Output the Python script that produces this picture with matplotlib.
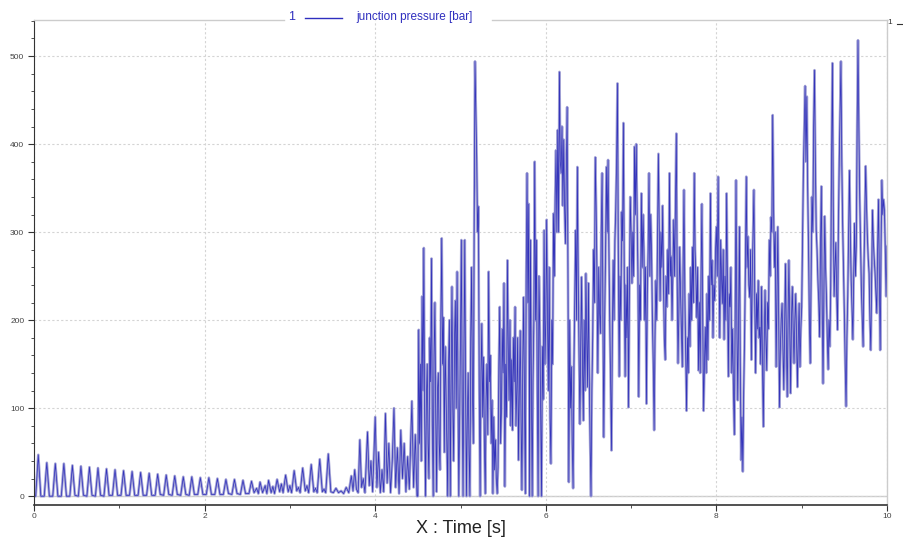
import matplotlib
matplotlib.use("Agg")
import matplotlib.pyplot as plt
import numpy as np
from matplotlib.ticker import MultipleLocator
from matplotlib.lines import Line2D

plt.rcParams['font.family'] = ['Liberation Sans', 'DejaVu Sans']

# regular start-up pulses (0 - 2.5 s)
t_pulse = [0.00,
           0.02, 0.05, 0.08, 0.12, 0.15, 0.18, 0.22, 0.25, 0.28, 0.32, 0.35, 0.38,
           0.42, 0.45, 0.48, 0.52, 0.55, 0.58, 0.62, 0.65, 0.68, 0.72, 0.75, 0.78,
           0.82, 0.85, 0.88, 0.92, 0.95, 0.98, 1.02, 1.05, 1.08, 1.12, 1.15, 1.18,
           1.22, 1.25, 1.28, 1.32, 1.35, 1.38, 1.42, 1.45, 1.48, 1.52, 1.55, 1.58,
           1.62, 1.65, 1.68, 1.72, 1.75, 1.78, 1.82, 1.85, 1.88, 1.92, 1.95, 1.98,
           2.02, 2.05, 2.08, 2.12, 2.15, 2.18, 2.22, 2.25, 2.28, 2.32, 2.35, 2.38,
           2.42, 2.45, 2.48]
p_pulse = [0,
           0, 47, 0, 0, 38, 0, 0, 37, 0, 0, 37, 0,
           0, 35, 1, 0, 34, 1, 0, 33, 1, 0, 32, 1,
           0, 31, 1, 1, 30, 1, 1, 29, 1, 1, 28, 1,
           1, 27, 1, 1, 26, 1, 1, 25, 2, 1, 24, 2,
           1, 23, 2, 1, 22, 2, 1, 22, 2, 2, 21, 2,
           2, 21, 2, 2, 20, 2, 2, 19, 3, 2, 19, 3,
           2, 18, 3]

# pulses getting irregular and growing (2.5 - 4.5 s)
t_rise = [2.52, 2.55, 2.58, 2.61, 2.63, 2.65, 2.68, 2.71, 2.73,
          2.75, 2.78, 2.80, 2.82, 2.85, 2.88, 2.90, 2.92,
          2.95, 2.98, 3.00, 3.02, 3.05, 3.08, 3.10, 3.12,
          3.15, 3.18, 3.20, 3.22, 3.25, 3.28, 3.30, 3.32,
          3.35, 3.38, 3.40, 3.42, 3.45, 3.48, 3.51, 3.54, 3.57, 3.60, 3.63, 3.66, 3.69,
          3.72, 3.74, 3.76, 3.78, 3.80, 3.82, 3.84, 3.86, 3.88,
          3.91, 3.93, 3.95, 3.97, 4.00, 4.02, 4.04, 4.06, 4.08, 4.10,
          4.12, 4.14, 4.16, 4.18, 4.20, 4.22, 4.24, 4.26, 4.28,
          4.30, 4.32, 4.34, 4.36, 4.38, 4.40, 4.43, 4.45, 4.47, 4.49]
p_rise = [3, 17, 4, 9, 3, 16, 4, 12, 3,
          18, 4, 11, 3, 19, 5, 14, 4,
          24, 5, 12, 4, 29, 6, 10, 4,
          32, 6, 12, 4, 36, 5, 9, 4,
          42, 5, 8, 4, 48, 5, 4, 9, 4, 6, 3, 10, 4,
          23, 6, 30, 8, 4, 64, 10, 20, 4,
          73, 12, 40, 5, 90, 10, 50, 4, 30, 5,
          94, 15, 60, 4, 40, 100, 10, 55, 3,
          75, 20, 60, 5, 45, 8, 108, 10, 70, 0]

# chaotic part, read every 0.01 s from 4.50 s to 10.00 s (one row = 0.1 s)
t0_fast = 4.50
dt_fast = 0.01
p_fast = [0, 189, 60, 150, 40, 227, 120, 282, 90, 0,
          110, 150, 60, 20, 180, 130, 270, 80, 0, 160,
          220, 90, 5, 120, 140, 60, 30, 203, 293, 150,
          203, 50, 170, 120, 60, 0, 150, 200, 0, 130,
          238, 100, 40, 180, 222, 100, 255, 120, 0, 90,
          180, 291, 110, 0, 160, 291, 120, 0, 90, 140,
          50, 0, 180, 260, 120, 60, 300, 494, 440, 384,
          300, 329, 120, 0, 140, 196, 90, 158, 60, 3,
          110, 150, 70, 255, 130, 160, 60, 109, 3, 90,
          30, 64, 20, 3, 33, 150, 215, 60, 97, 190,
          140, 242, 11, 150, 90, 268, 170, 109, 200, 80,
          155, 75, 180, 130, 215, 80, 120, 180, 41, 120,
          188, 90, 7, 150, 226, 110, 3, 250, 367, 220,
          332, 0, 291, 150, 0, 130, 200, 380, 200, 291,
          120, 0, 250, 188, 90, 0, 170, 110, 302, 150,
          200, 314, 200, 120, 260, 89, 37, 200, 150, 321,
          250, 340, 393, 300, 416, 300, 482, 380, 367, 420,
          330, 405, 330, 287, 360, 442, 250, 16, 200, 100,
          147, 60, 9, 150, 230, 302, 200, 374, 250, 160,
          82, 180, 249, 150, 86, 200, 120, 253, 180, 124,
          242, 130, 60, 0, 120, 181, 280, 220, 385, 329,
          250, 140, 260, 210, 185, 300, 367, 200, 67, 200,
          270, 374, 300, 382, 280, 196, 130, 52, 180, 268,
          200, 290, 325, 380, 469, 280, 136, 250, 200, 323,
          290, 424, 250, 136, 240, 180, 260, 101, 230, 340,
          300, 242, 300, 250, 397, 320, 400, 330, 253, 113,
          240, 200, 344, 260, 320, 280, 200, 260, 105, 230,
          280, 367, 250, 320, 276, 200, 150, 75, 180, 245,
          200, 300, 389, 300, 222, 300, 260, 330, 240, 178,
          155, 250, 215, 280, 230, 367, 250, 272, 200, 260,
          314, 250, 330, 412, 250, 151, 210, 283, 230, 190,
          147, 260, 348, 230, 160, 97, 180, 140, 230, 170,
          260, 200, 283, 220, 367, 280, 250, 203, 260, 143,
          220, 140, 250, 332, 200, 97, 150, 192, 140, 230,
          155, 250, 200, 344, 240, 268, 180, 240, 222, 280,
          306, 250, 363, 260, 180, 291, 250, 219, 280, 178,
          250, 200, 344, 240, 136, 230, 215, 260, 140, 190,
          120, 70, 200, 359, 200, 109, 200, 306, 150, 41,
          90, 28, 120, 178, 260, 363, 260, 295, 240, 226,
          280, 155, 250, 300, 348, 220, 140, 230, 190, 245,
          180, 192, 150, 238, 150, 79, 170, 234, 180, 143,
          220, 190, 291, 250, 317, 300, 433, 330, 260, 300,
          147, 230, 306, 200, 101, 170, 200, 219, 170, 121,
          190, 264, 180, 113, 200, 268, 190, 117, 200, 238,
          190, 151, 200, 230, 180, 124, 180, 219, 147, 190,
          215, 290, 370, 420, 466, 380, 454, 350, 284, 200,
          151, 250, 340, 300, 420, 484, 380, 303, 280, 246,
          220, 181, 280, 352, 220, 128, 230, 318, 260, 227,
          180, 144, 200, 170, 238, 380, 492, 330, 227, 260,
          288, 230, 189, 303, 380, 440, 494, 380, 310, 260,
          208, 150, 102, 180, 227, 300, 370, 300, 246, 210,
          178, 250, 310, 250, 284, 420, 518, 420, 340, 290,
          234, 200, 170, 260, 320, 375, 330, 295, 270, 253,
          200, 166, 250, 325, 290, 270, 253, 230, 208, 280,
          337, 250, 166, 280, 359, 320, 337, 325, 280, 227,
          284]
t_fast = list(np.round(t0_fast + dt_fast * np.arange(len(p_fast)), 2))

time = t_pulse + t_rise + t_fast
pressure = p_pulse + p_rise + p_fast

fig = plt.figure(figsize=(9.04, 5.37), dpi=100)
ax = fig.add_axes([34 / 904, 32 / 537, 853 / 904, 485 / 537])

# soft halo + thin core, like the anti-aliased trace of the original tool
ax.plot(time, pressure, color='#a4a4d6', lw=1.9)
ax.plot(time, pressure, color='#3333bb', lw=0.55)

ax.set_xlim(0, 10)
ax.set_ylim(-10, 541)
ax.xaxis.set_major_locator(MultipleLocator(2))
ax.xaxis.set_minor_locator(MultipleLocator(1))
ax.yaxis.set_major_locator(MultipleLocator(100))
ax.yaxis.set_minor_locator(MultipleLocator(20))

ax.grid(True, which='major', color='#d4d4d4', linestyle=(0, (2, 2)), lw=0.8)
ax.axhline(0, color='#cccccc', lw=1, zorder=0)
ax.set_axisbelow(True)

for s in ['top', 'right']:
    ax.spines[s].set_visible(False)
ax.spines['left'].set_color('#333333')
ax.spines['bottom'].set_color('#333333')
ax.spines['bottom'].set_linewidth(1.2)
ax.plot([1, 1], [0, 1], transform=ax.transAxes, color='#cccccc', lw=1, clip_on=False)

ax.tick_params(axis='both', which='major', labelsize=6, labelcolor='#444444', color='#333333', length=4)
ax.tick_params(axis='both', which='minor', length=2.5, color='#333333')
ax.tick_params(axis='y', pad=3)
ax.tick_params(axis='x', pad=2)

ax.set_xlabel("X : Time [s]", fontsize=13, color='#222222', labelpad=0)

# legend sitting on the top frame line
fig.add_artist(Line2D([34 / 904, 284 / 904], [1 - 20 / 537, 1 - 20 / 537], color='#cccccc', lw=1))
fig.add_artist(Line2D([492 / 904, 887 / 904], [1 - 20 / 537, 1 - 20 / 537], color='#cccccc', lw=1))
fig.add_artist(Line2D([305 / 904, 342 / 904], [1 - 18 / 537, 1 - 18 / 537], color='#2f2fbf', lw=1))
fig.text(292 / 904, 1 - 17 / 537, "1", color='#2f2fbf', fontsize=9, ha='center', va='center')
fig.text(356 / 904, 1 - 17 / 537, "junction pressure [bar]", color='#2f2fbf', fontsize=8.5, ha='left', va='center')
fig.text(890 / 904, 1 - 22 / 537, "1", color='#333333', fontsize=6, ha='center', va='center')
fig.add_artist(Line2D([897 / 904, 902 / 904], [1 - 24 / 537, 1 - 24 / 537], color='#333333', lw=0.8))

fig.savefig("out.png", dpi=100)
